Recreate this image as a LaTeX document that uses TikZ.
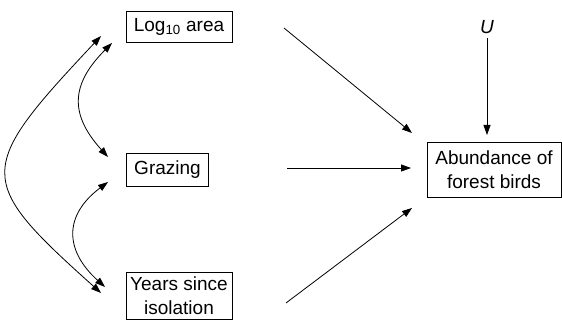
\documentclass[tikz,border=0pt]{standalone}
\usepackage{fontspec}
\setmainfont{Liberation Sans}
\usetikzlibrary{arrows.meta}
\begin{document}
\begin{tikzpicture}[x=1pt,y=-1pt,
  box/.style={draw,line width=0.8pt,inner sep=0pt,align=center,font=\fontsize{19}{24}\selectfont},
  arr/.style={line width=0.8pt,-{Triangle[length=10pt,width=7pt]}},
  darr/.style={line width=0.8pt,{Triangle[length=10pt,width=7pt]}-{Triangle[length=10pt,width=7pt]}}]
\useasboundingbox (0,0) rectangle (562,331);
\node[box,minimum width=106,minimum height=31] (log) at (179,27) {Log\textsubscript{10} area};
\node[box,minimum width=82,minimum height=33] (gr) at (167.5,169.5) {Grazing};
\node[box,minimum width=106,minimum height=47] (yr) at (179,296) {Years since\\isolation};
\node[box,minimum width=134,minimum height=55] (ab) at (494,169.5) {Abundance of\\forest birds};
\node[font=\fontsize{19}{22}\selectfont\itshape,inner sep=0pt] (u) at (487,27) {U};
% free ends
\coordinate (logS) at (284,28);
\coordinate (logE) at (412,133);
\coordinate (grS) at (287,168);
\coordinate (grE) at (411,168);
\coordinate (yrS) at (286,303);
\coordinate (yrE) at (412,208);
\coordinate (uS) at (487,38);
\coordinate (uE) at (487,135);
\draw[arr] (logS) -- (logE);
\draw[arr] (grS) -- (grE);
\draw[arr] (yrS) -- (yrE);
\draw[arr] (uS) -- (uE);
% correlations
\coordinate (o1) at (101,36);
\coordinate (o2) at (101,293);
\coordinate (a1) at (112,43);
\coordinate (a2) at (108,157);
\coordinate (b1) at (108,182);
\coordinate (b2) at (105,287);
\draw[darr] (o1) .. controls (-25,170) and (-25,180) .. (o2);
\draw[darr] (a1) .. controls (70,85) and (70,115) .. (a2);
\draw[darr] (b1) .. controls (64,215) and (64,250) .. (b2);
\end{tikzpicture}
\end{document}
